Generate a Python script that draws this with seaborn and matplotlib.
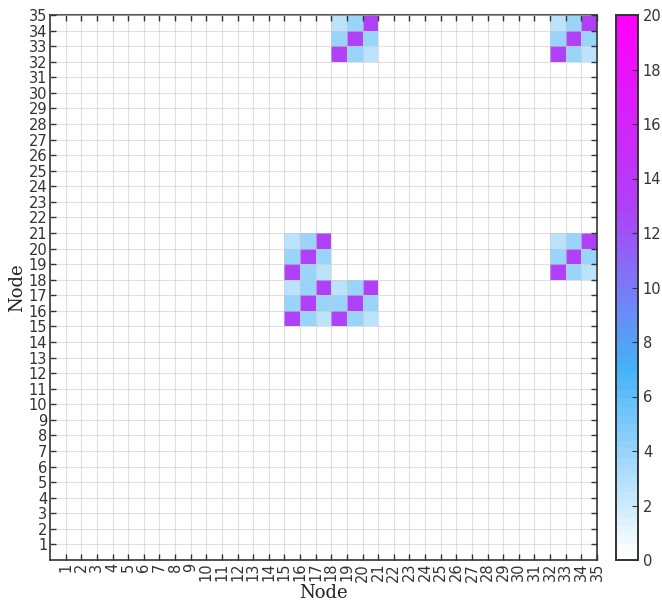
import numpy as np
import pandas as pd
import matplotlib
matplotlib.use('Agg')
import matplotlib.pyplot as plt
import seaborn as sns
from matplotlib.colors import LinearSegmentedColormap

# 節點編號
nodes = list(range(1, 36))

# 每個 3x3 區塊的數值 (由下往上的列)
block_values = [[13, 3.8, 2.5],
                [3.8, 13, 3.8],
                [2.5, 3.8, 13]]

# 區塊左下角的格子位置 (x, y)
block_x = [15, 18, 15, 18, 32, 32]
block_y = [15, 15, 18, 32, 32, 18]

# 建立矩陣
mat = np.zeros((len(nodes), len(nodes)))
for bx, by in zip(block_x, block_y):
    for r in range(3):
        for c in range(3):
            mat[by + r, bx + c] = block_values[r][c]
df = pd.DataFrame(mat)

# 顏色
cmap = LinearSegmentedColormap.from_list(
    'wbm',
    [(0.0, '#ffffff'), (7 / 20, '#44b2f8'), (10 / 20, '#7a7af8'),
     (13 / 20, '#b040f8'), (1.0, '#ff00ff')], N=64)

fig = plt.figure(figsize=(6.62, 6.04), dpi=100)
ax = fig.add_axes([50 / 662, 44 / 604, 547 / 662, 545 / 604])
cax = fig.add_axes([616 / 662, 44 / 604, 22 / 662, 545 / 604])

sns.heatmap(df, ax=ax, cmap=cmap, vmin=0, vmax=20, cbar_ax=cax,
            xticklabels=False, yticklabels=False)
ax.invert_yaxis()
ax.set_xlim(0, 35)
ax.set_ylim(0, 35)

tick_font = 'DejaVu Sans'
ax.set_xticks(nodes)
ax.set_xticklabels([str(n) for n in nodes], rotation=90, fontsize=10.5, family=tick_font)
ax.set_yticks(nodes)
ax.set_yticklabels([str(n) for n in nodes], rotation=0, fontsize=10.5, family=tick_font)
ax.tick_params(direction='in', length=4, width=1, color='#333333',
               top=True, right=True, labelcolor='#333333', pad=2)

ax.grid(True, color='#c8c8c8', linewidth=0.8, alpha=0.55)
ax.set_axisbelow(False)
for s in ax.spines.values():
    s.set_visible(True)
    s.set_color('#333333')
    s.set_linewidth(1.2)

ax.set_xlabel('Node', fontsize=13, family='DejaVu Serif', labelpad=2, color='#222222')
ax.set_ylabel('Node', fontsize=13, family='DejaVu Serif', labelpad=2, color='#222222')

cax.set_yticks(np.arange(0, 21, 2))
cax.set_yticklabels([str(v) for v in range(0, 21, 2)], fontsize=10.5, family=tick_font)
cax.tick_params(direction='in', length=4, color='#333333', labelcolor='#333333')
cax.yaxis.set_ticks_position('right')
for s in cax.spines.values():
    s.set_visible(True)
    s.set_color('#333333')
    s.set_linewidth(1.2)

plt.savefig('out.png', dpi=100)
